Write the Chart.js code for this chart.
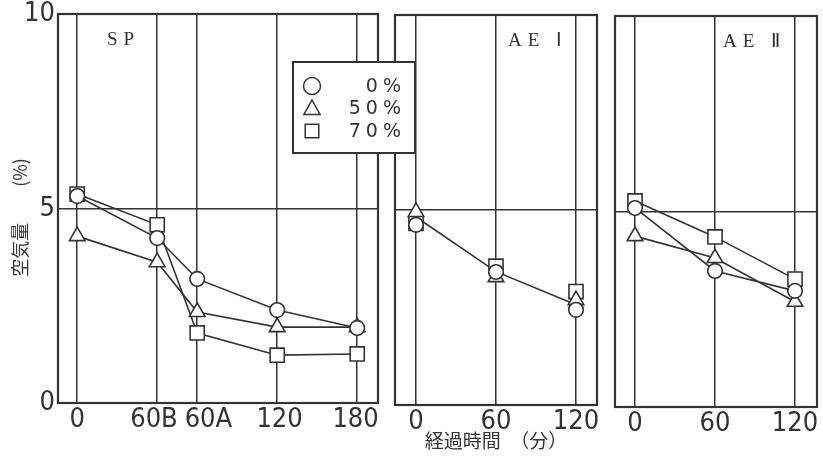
<!DOCTYPE html>
<html><head><meta charset="utf-8">
<script src="https://cdn.jsdelivr.net/npm/chart.js@4/dist/chart.umd.min.js"></script>
<style>
html,body{margin:0;padding:0;background:#fff;width:823px;height:465px;overflow:hidden;position:relative}
canvas{position:absolute;top:0}
</style></head><body>
<canvas id="c2" width="228" height="465" style="left:383px;z-index:1"></canvas>
<canvas id="c3" width="240" height="465" style="left:603px;z-index:1"></canvas>
<canvas id="c1" width="420" height="465" style="left:0;z-index:2"></canvas>
<script>
// ---------- data ----------
const seriesNames = ['0%', '50%', '70%'];
const yTicks = [0, 5, 10];
const spLabels = ['0', '60B', '60A', '120', '180'];
const sp0  = [5.32, 4.24, 3.19, 2.39, 1.93];
const sp50 = [4.29, 3.62, 2.34, 1.95, 1.95];
const sp70 = [5.37, 4.58, 1.80, 1.23, 1.26];
const aeTimes = [0, 60, 120];
const aeLabels = ['0', '60', '120'];
const ae1_0  = [4.62, 3.41, 2.44];
const ae1_50 = [4.95, 3.28, 2.69];
const ae1_70 = [4.66, 3.56, 2.91];
const ae1Trend = [4.82, 3.42, 2.57];
const ae2_0  = [5.09, 3.48, 2.97];
const ae2_50 = [4.37, 3.81, 2.69];
const ae2_70 = [5.27, 4.35, 3.27];
const panelNames = ['SP', 'AE Ⅰ', 'AE Ⅱ'];
const yTitle = '空気量　　(%)　';
const xTitle = '経過時間　（分）';

// ---------- layout / style ----------
const spSlot = [0, 1, 1.5, 2.5, 3.5];          // horizontal slot of each SP category (grid lines)
const spLabelSlot = [0, 0.96, 1.64, 2.53, 3.48]; // where the SP tick texts sit
const INK = '#333';
const NARROW = '"Liberation Sans Narrow","DejaVu Sans Condensed","DejaVu Sans",sans-serif';
const JP = '"Noto Sans CJK JP",sans-serif';
const shapes = ['circle', 'triangle', 'rect'];
const radii = [7.3, 9, 10];
const tickFont = {family: NARROW, size: 27, weight: 'condensed'};

function series(xs, ys, i, showLine) {
  return {
    label: seriesNames[i],
    data: ys.map((v, k) => ({x: xs[k], y: v})),
    pointStyle: shapes[i], pointRadius: radii[i],
    pointBackgroundColor: '#fff', pointBorderColor: INK, pointBorderWidth: 1.6,
    borderColor: INK, borderWidth: 1.6, showLine: showLine, tension: 0
  };
}

function drawShape(ctx, shape, x, y, r) {
  ctx.beginPath();
  if (shape === 'circle') ctx.arc(x, y, r, 0, Math.PI * 2);
  else if (shape === 'triangle') {
    ctx.moveTo(x, y - r); ctx.lineTo(x + r * 0.95, y + r * 0.7); ctx.lineTo(x - r * 0.95, y + r * 0.7); ctx.closePath();
  } else ctx.rect(x - r * 0.8, y - r * 0.8, r * 1.6, r * 1.6);
  ctx.fillStyle = '#fff'; ctx.fill(); ctx.stroke();
}

const deco = {
  id: 'deco',
  beforeDatasetsDraw(chart, a, o) {
    const {ctx, chartArea: c} = chart;
    ctx.save(); ctx.strokeStyle = INK; ctx.lineWidth = 2.2;
    ctx.strokeRect(c.left, c.top, c.right - c.left, c.bottom - c.top);
    ctx.restore();
  },
  afterDatasetsDraw(chart, a, o) {
    const {ctx, chartArea: c} = chart;
    ctx.save();
    ctx.fillStyle = INK; ctx.font = '19px "Liberation Serif",serif';
    ctx.letterSpacing = '6px'; ctx.textBaseline = 'alphabetic'; ctx.textAlign = 'left';
    ctx.fillText(o.title, c.left + o.dx, c.top + 31);
    if (o.legend) {
      const bx = c.left + 235, by = c.top + 48, bw = 122, bh = 91;
      ctx.fillStyle = '#fff'; ctx.fillRect(bx, by, bw, bh);
      ctx.strokeStyle = INK; ctx.lineWidth = 2; ctx.strokeRect(bx, by, bw, bh);
      ctx.lineWidth = 1.5;
      ctx.font = '19px "DejaVu Sans",sans-serif'; ctx.letterSpacing = '5px';
      ctx.textAlign = 'right'; ctx.textBaseline = 'middle';
      seriesNames.forEach((n, i) => {
        const yy = by + 24 + i * 22.5;
        drawShape(ctx, shapes[i], bx + 19, yy, 8.5);
        ctx.fillStyle = INK; ctx.fillText(n, bx + bw - 9, yy + 1);
      });
    }
    ctx.restore();
  }
};

function xAxis(cfg, ticksAt, labels, showGrid, showLabels, height, title) {
  return {
    type: 'linear', position: 'bottom', min: cfg.xMin, max: cfg.xMax,
    afterBuildTicks: s => { s.ticks = ticksAt.map(v => ({value: v})); },
    afterFit: s => { s.height = height; s.paddingLeft = 0; s.paddingRight = 0; },
    ticks: {display: showLabels, callback: (v, i) => labels[i], autoSkip: false, maxRotation: 0,
      font: tickFont, color: INK, padding: 1},
    grid: {display: showGrid, color: INK, lineWidth: 1.5, drawTicks: false},
    border: {display: false},
    title: title ? {display: true, text: title, font: {family: JP, size: 19},
      color: INK, padding: {top: 0, bottom: 13}} : {display: false}
  };
}

function panel(id, cfg) {
  const scales = {};
  if (cfg.labelAt) {
    scales.x = xAxis(cfg, cfg.xTicks, cfg.xLabels, true, false, 0, null);
    scales.xl = xAxis(cfg, cfg.labelAt, cfg.xLabels, false, true, cfg.xHeight, null);
  } else {
    scales.x = xAxis(cfg, cfg.xTicks, cfg.xLabels, true, true, cfg.xHeight, cfg.xTitle);
  }
  scales.y = {
    min: 0, max: 10,
    afterBuildTicks: s => { s.ticks = yTicks.map(v => ({value: v})); },
    afterFit: s => { s.width = cfg.yWidth; s.paddingTop = 0; s.paddingBottom = 0; s.paddingLeft = 0; s.paddingRight = 0; },
    ticks: {display: cfg.showY, font: tickFont, color: INK, padding: 3},
    grid: {color: c => c.tick && c.tick.value === 5 ? INK : 'rgba(0,0,0,0)', lineWidth: 1.5, drawTicks: false},
    border: {display: false},
    title: cfg.showY ? {display: true, text: yTitle, font: {family: JP, size: 18}, color: INK,
      padding: {top: 9, bottom: 0}} : {display: false}
  };
  new Chart(document.getElementById(id), {
    type: 'scatter',
    data: {datasets: cfg.datasets},
    options: {
      responsive: false, animation: false,
      layout: {padding: cfg.pad},
      plugins: {legend: {display: false}, tooltip: {enabled: false},
        deco: {title: cfg.title, dx: cfg.titleDx, legend: cfg.legend}},
      scales: scales
    },
    plugins: [deco]
  });
}

panel('c1', {
  datasets: [series(spSlot, sp0, 0, true), series(spSlot, sp50, 1, true), series(spSlot, sp70, 2, true)],
  xMin: -0.24, xMax: 3.76, xTicks: spSlot, labelAt: spLabelSlot, xLabels: spLabels,
  pad: {top: 14, right: 42, left: 0, bottom: 0}, yWidth: 58, showY: true, xHeight: 62,
  title: panelNames[0], titleDx: 49, legend: true
});
panel('c2', {
  datasets: [series(aeTimes, ae1_0, 0, false), series(aeTimes, ae1_50, 1, false), series(aeTimes, ae1_70, 2, false),
    {label: 'trend', data: ae1Trend.map((v, k) => ({x: aeTimes[k], y: v})), pointRadius: 0,
     borderColor: INK, borderWidth: 1.6, showLine: true}],
  xMin: -15.75, xMax: 135.75, xTicks: aeTimes, xLabels: aeLabels,
  pad: {top: 15, right: 14, left: 12, bottom: 0}, yWidth: 0, showY: false, xHeight: 60,
  xTitle: xTitle, title: panelNames[1], titleDx: 113, legend: false
});
panel('c3', {
  datasets: [series(aeTimes, ae2_0, 0, true), series(aeTimes, ae2_50, 1, true), series(aeTimes, ae2_70, 2, true)],
  xMin: -15, xMax: 136.5, xTicks: aeTimes, xLabels: aeLabels,
  pad: {top: 16, right: 26, left: 12, bottom: 0}, yWidth: 0, showY: false, xHeight: 58,
  title: panelNames[2], titleDx: 108, legend: false
});
</script>
</body></html>
